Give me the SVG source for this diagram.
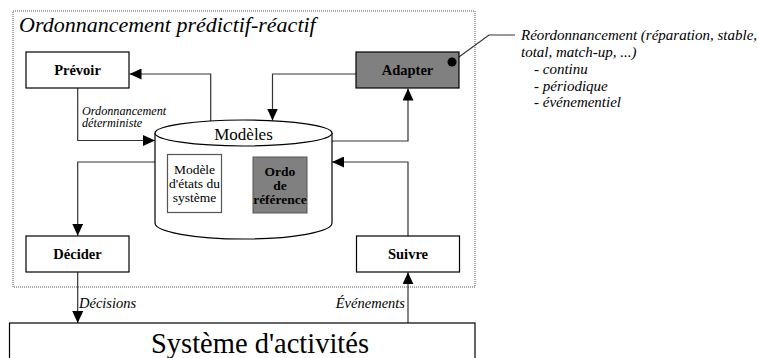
<svg xmlns="http://www.w3.org/2000/svg" width="758" height="358" viewBox="0 0 758 358" font-family="'Liberation Serif', 'Times New Roman', 'DejaVu Serif', serif">
<style>
text{font-family:'Liberation Serif','Times New Roman','DejaVu Serif',serif;fill:#000}
.box{fill:#fff;stroke:#000;stroke-width:1.2}
.gbox{fill:#808080;stroke:#000;stroke-width:1.2}
.b{font-weight:bold;font-size:14.5px;text-anchor:middle}
.lbl{font-style:italic;font-size:14.5px}
.con{fill:none;stroke:#333;stroke-width:1.2}
</style>
<defs>
<marker id="ah" markerUnits="userSpaceOnUse" markerWidth="13" markerHeight="11" refX="12" refY="5.5" orient="auto">
<path d="M0,0 L12,5.5 L0,11 Z" fill="#000"/>
</marker>
</defs>
<rect x="0" y="0" width="758" height="358" fill="#fff"/>
<rect id="frame" x="13" y="11" width="462" height="276" fill="none" stroke="#555" stroke-width="1" stroke-dasharray="1,1"/>
<text x="19" y="32" font-style="italic" font-size="22">Ordonnancement prédictif-réactif</text>

<g id="connectors">
<path class="con" d="M210.7,121 V74 H129.5" marker-end="url(#ah)"/>
<path class="con" d="M77.7,88 V140.5 H155" marker-end="url(#ah)"/>
<path class="con" d="M356,74 H272.5 V120.5" marker-end="url(#ah)"/>
<path class="con" d="M332,141 H408 V88.5" marker-end="url(#ah)"/>
<path class="con" d="M408,236 V162 H332" marker-end="url(#ah)"/>
<path class="con" d="M155,162 H77.7 V235.7" marker-end="url(#ah)"/>
<path class="con" d="M77.7,272 V323" marker-end="url(#ah)"/>
<path class="con" d="M408,323 V272.3" marker-end="url(#ah)"/>
<path class="con" d="M452,62 L489,35 H515" stroke="#000"/>
<text x="82" y="114.5" font-style="italic" font-size="12.2">Ordonnancement</text>
<text x="82" y="127" font-style="italic" font-size="12.2">déterministe</text>
<text class="lbl" x="79" y="308">Décisions</text>
<text class="lbl" x="405" y="308" text-anchor="end">Événements</text>
</g>

<g id="prevoir">
<rect class="box" x="26" y="52" width="103" height="36"/>
<text class="b" x="77.5" y="75">Prévoir</text>
</g>

<g id="adapter">
<rect class="gbox" x="356" y="52" width="103" height="36"/>
<text class="b" x="407.5" y="75">Adapter</text>
<circle cx="452" cy="62" r="4.5" fill="#000"/>
</g>

<g id="modeles">
<path d="M155,133 V223 A88.5,16 0 0 0 332,223 V133" fill="#fff" stroke="#000" stroke-width="1.2"/>
<ellipse cx="243.5" cy="133" rx="88.5" ry="13" fill="#fff" stroke="#000" stroke-width="1.2"/>
<text x="243.5" y="140" text-anchor="middle" font-size="17">Modèles</text>
</g>

<g id="etats">
<rect x="167.5" y="154.5" width="54" height="58" fill="#fff" stroke="#555" stroke-width="1.2"/>
<text x="194.5" y="174" text-anchor="middle" font-size="13.5">Modèle</text>
<text x="194.5" y="188" text-anchor="middle" font-size="13.5">d'états du</text>
<text x="194.5" y="202" text-anchor="middle" font-size="13.5">système</text>
</g>

<g id="ordo">
<rect x="253" y="157" width="54" height="56" fill="#808080" stroke="#555" stroke-width="1"/>
<text x="280" y="176" text-anchor="middle" font-size="13.5" font-weight="bold">Ordo</text>
<text x="280" y="190" text-anchor="middle" font-size="13.5" font-weight="bold">de</text>
<text x="280" y="204" text-anchor="middle" font-size="13.5" font-weight="bold">référence</text>
</g>

<g id="decider">
<rect class="box" x="26" y="236" width="103" height="36"/>
<text class="b" x="77.5" y="258.5">Décider</text>
</g>

<g id="suivre">
<rect class="box" x="356.5" y="236" width="103" height="36"/>
<text class="b" x="408" y="258.5">Suivre</text>
</g>

<g id="systeme">
<rect class="box" x="9.5" y="323" width="465.5" height="50"/>
<text x="260" y="352.5" text-anchor="middle" font-size="28.5">Système d'activités</text>
</g>

<g id="annotation" font-style="italic" font-size="15">
<text x="521" y="40">Réordonnancement (réparation, stable,</text>
<text x="521" y="57">total, match-up, ...)</text>
<text x="534" y="74">- continu</text>
<text x="534" y="91">- périodique</text>
<text x="534" y="107">- événementiel</text>
</g>
</svg>
